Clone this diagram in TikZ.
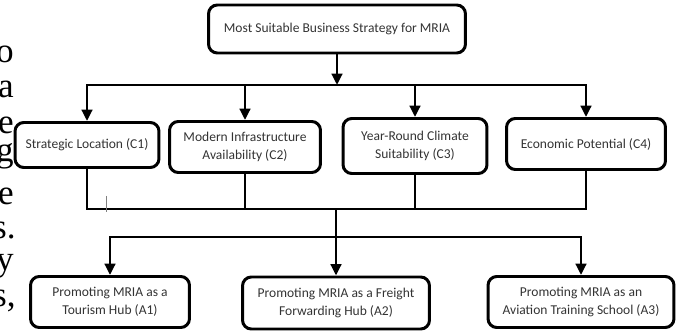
\documentclass[tikz,border=0pt]{standalone}
\usepackage{fontspec}
\setmainfont{Carlito}
\newfontfamily\bodyserif{Liberation Serif}
\usetikzlibrary{arrows.meta}

\begin{document}
\begin{tikzpicture}[x=0.02cm, y=-0.02cm,
	box/.style={draw, line width=1.7pt, rounded corners=5pt, align=center, inner sep=2pt,
		text=black!80, font=\fontsize{7.7}{10.4}\selectfont},
	wire/.style={line width=1.7pt},
	feed/.style={wire, -{Triangle[length=6.5pt,width=6pt]}},
	margin/.style={anchor=base east, inner sep=0pt, font=\bodyserif\fontsize{20}{20}\selectfont}]
	\useasboundingbox (0,0) rectangle (680,331);

	% ends of the running text beside the figure
	\node[margin] (m1) at (14,63) {o};
	\node[margin] (m2) at (14,98) {a};
	\node[margin] (m3) at (14,133) {e};
	\node[margin] (m4) at (14,162) {g};
	\node[margin] (m5) at (14,204) {e};
	\node[margin] (m6) at (16,238) {s.};
	\node[margin] (m7) at (14,270) {y};
	\node[margin] (m8) at (16,306) {s,};

	% goal
	\node[box, minimum width=5.14cm, minimum height=0.96cm] (goal) at (337,29) {Most Suitable Business Strategy for MRIA};

	% criteria
	\node[box, minimum width=2.88cm, minimum height=0.9cm] (c1) at (87,145) {Strategic Location (C1)};
	\node[box, minimum width=3.02cm, minimum height=1.02cm] (c2) at (245,147) {Modern Infrastructure\\Availability (C2)};
	\node[box, minimum width=2.88cm, minimum height=1.1cm] (c3) at (415,146) {Year-Round Climate\\Suitability (C3)};
	\node[box, minimum width=3.18cm, minimum height=1.02cm] (c4) at (586,144) {Economic Potential (C4)};

	% alternatives
	\node[box, minimum width=3.18cm, minimum height=1.02cm] (a1) at (110,302) {Promoting MRIA as a\\Tourism Hub (A1)};
	\node[box, minimum width=3.74cm, minimum height=1.04cm] (a2) at (336,303) {Promoting MRIA as a Freight\\Forwarding Hub (A2)};
	\node[box, minimum width=3.72cm, minimum height=1.02cm] (a3) at (581,302) {Promoting MRIA as an\\Aviation Training School (A3)};

	\coordinate (split) at (337,85);
	\coordinate (merge) at (336,209);
	\coordinate (fork) at (336,237);

	% goal to criteria
	\draw[feed] (goal.south) -- (split);
	\draw[feed] (split) -| (c1.north);
	\draw[feed] (split) -| (c4.north);
	\draw[feed] (c2.north |- split) -- (c2.north);
	\draw[feed] (c3.north |- split) -- (c3.north);

	% criteria to alternatives
	\draw[wire] (c1.south) |- (merge);
	\draw[wire] (c4.south) |- (merge);
	\draw[wire] (c2.south) -- (c2.south |- merge);
	\draw[wire] (c3.south) -- (c3.south |- merge);
	\draw[feed] (merge) -- (a2.north);
	\draw[feed] (fork) -| (a1.north);
	\draw[feed] (fork) -| (a3.north);

	\draw[gray, line width=0.3pt] (106,196) -- (106,212);
\end{tikzpicture}
\end{document}
